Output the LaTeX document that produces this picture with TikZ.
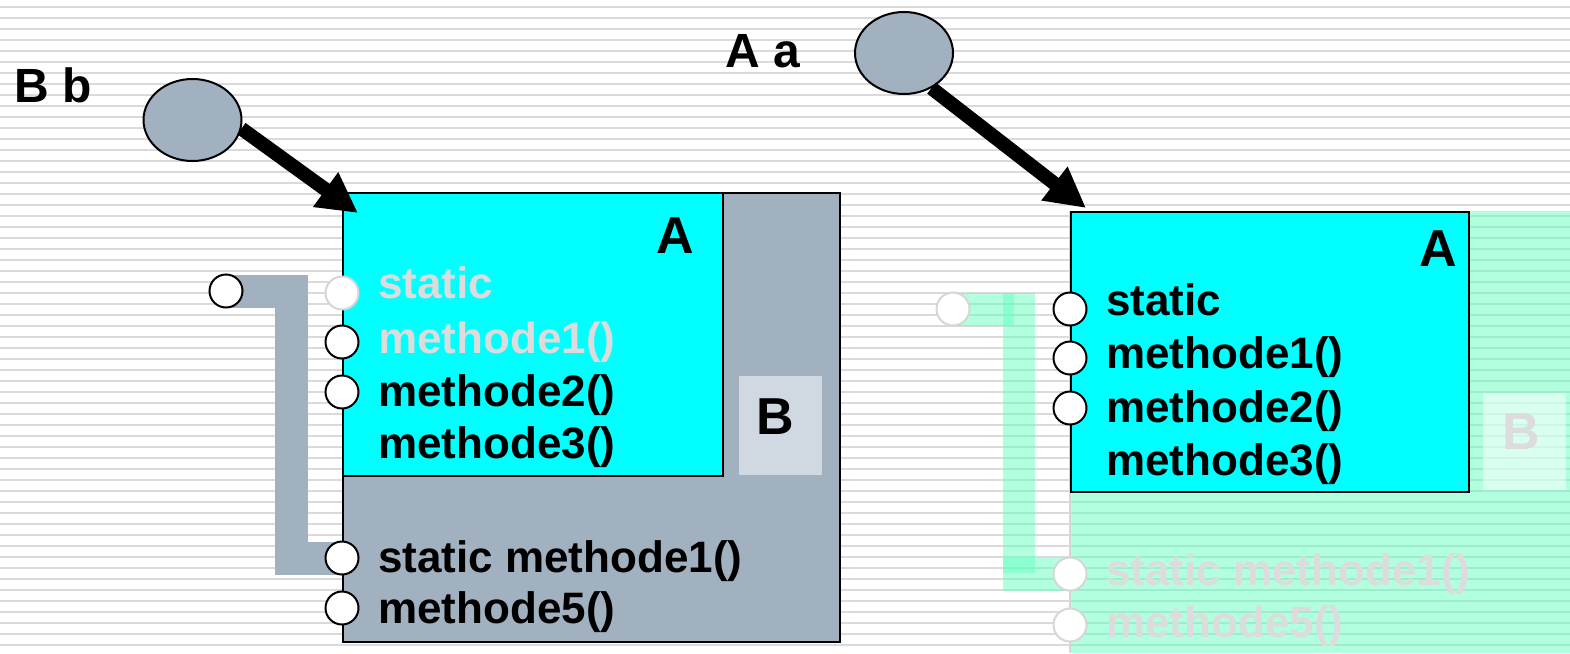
\documentclass[tikz,border=0pt]{standalone}
\usepackage{fontspec}
\setmainfont{Liberation Sans}
\usetikzlibrary{arrows.meta,shapes.geometric}
\definecolor{stripecol}{RGB}{218,218,218}
\definecolor{bluegray}{RGB}{162,177,192}
\definecolor{lightbg}{RGB}{208,216,225}
\definecolor{ghosttext}{RGB}{220,220,220}
\definecolor{ghostline}{RGB}{214,214,214}
\definecolor{mint}{RGB}{102,255,192}
\definecolor{cyanbox}{RGB}{0,255,255}
\tikzset{
  stripe/.style={draw=stripecol, line width=1.8pt},
  boxline/.style={draw=black, line width=2pt, inner sep=0pt, anchor=north west},
  lolli/.style={circle, draw=black, fill=white, line width=2pt, minimum size=33pt, inner sep=0pt},
  ghostlolli/.style={lolli, draw=ghostline},
  meth/.style={anchor=base west, inner sep=0pt, font=\fontsize{44}{48}\selectfont\bfseries},
  ghostmeth/.style={meth, text=ghosttext},
  biglabel/.style={inner sep=0pt, font=\fontsize{52}{56}\selectfont\bfseries},
  objlabel/.style={inner sep=0pt, font=\fontsize{48}{52}\selectfont\bfseries},
  objell/.style={ellipse, draw=black, fill=bluegray, line width=2pt, minimum width=98pt, minimum height=82pt, inner sep=0pt},
  bigarrow/.style={-{Triangle[length=40pt,width=40pt]}, line width=14pt},
  conbar/.style={draw=bluegray, line width=33pt},
  ghostbar/.style={draw=mint, line width=33pt, opacity=0.5},
}
\begin{document}
\begin{tikzpicture}[x=1pt,y=-1pt]
\useasboundingbox (0,0) rectangle (1570,653);
\fill[white] (0,0) rectangle (1570,653);
% background stripes
\foreach \i in {0,...,59} \draw[stripe] (0,{6.7+11*\i}) -- (1570,{6.7+11*\i});

% ---------- left object (B b) ----------
\coordinate (c0c) at (226,291);
\draw[conbar] (c0c) -- ++(65,0) |- (342,558);
\node[lolli] (c0) at (c0c) {};
\node[boxline, fill=bluegray, minimum width=497pt, minimum height=449pt] (Bbox) at (342,192) {};
\node[boxline, fill=cyanbox, minimum width=380pt, minimum height=283pt] (Abox) at (342,192) {};
\node[inner sep=0pt, anchor=north west, fill=lightbg, minimum width=83pt, minimum height=99pt] (Bsub) at (739,376) {};
\node[biglabel] (Blab) at (775,417) {B};
\node[biglabel] (Alab) at (675,236) {A};

\node[lolli, draw=ghostline] (l1) at (342,293) {};
\node[lolli] (l2) at (342,342) {};
\node[lolli] (l3) at (342,392) {};
\node[lolli] (l4) at (342,558) {};
\node[lolli] (l5) at (342,608) {};
\node[ghostmeth] (t1) at (378,298) {static};
\node[ghostmeth] (t2) at (378,353) {methode1()};
\node[meth] (t3) at (378,406) {methode2()};
\node[meth] (t4) at (378,458) {methode3()};
\node[meth] (t5) at (378,572) {static methode1()};
\node[meth] (t6) at (378,623) {methode5()};

\node[objell] (ellB) at (192.5,120) {};
\node[objlabel] (Bb) at (53,85) {B b};
\coordinate (tipB) at (358,213);
\draw[bigarrow] (ellB.-10) -- (tipB);

% ---------- right object (A a) ----------
\fill[mint, opacity=0.5] (1070,211) rectangle (1570,653);
\draw[ghostline, line width=2pt] (1070,211) -- (1070,653);
\coordinate (gc0c) at (953,309);
\coordinate (g4c) at (1070,574);
\draw[ghostbar] (gc0c) -- ++(61,0);
\draw[ghostbar, line width=32pt] (1019,293) -- (1019,573);
\draw[ghostbar] (g4c) -- ++(-67,0);
\node[ghostlolli] (gc0) at (gc0c) {};
\node[ghostlolli] (g4) at (g4c) {};
\node[ghostlolli] (g5) at (1070,625) {};
\fill[white, opacity=0.5] (1483,393) rectangle (1566,490);
\node[biglabel, text=ghosttext] (gB) at (1521,432) {B};
\node[ghostmeth] (gt5) at (1106,585) {static methode1()};
\node[ghostmeth] (gt6) at (1106,637) {methode5()};

\node[boxline, fill=cyanbox, minimum width=398pt, minimum height=280pt] (Abox2) at (1070,211) {};
\node[biglabel] (Alab2) at (1438,249) {A};
\node[lolli] (r1) at (1070,309) {};
\node[lolli] (r2) at (1070,358) {};
\node[lolli] (r3) at (1070,408) {};
\node[meth] (rt1) at (1106,315) {static};
\node[meth] (rt2) at (1106,368) {methode1()};
\node[meth] (rt3) at (1106,422) {methode2()};
\node[meth] (rt4) at (1106,475) {methode3()};

\node[objell] (ellA) at (904,53) {};
\node[objlabel] (Aa) at (763,51) {A a};
\coordinate (tipA) at (1086,208);
\draw[bigarrow] (ellA.-52) -- (tipA);
\end{tikzpicture}
\end{document}
